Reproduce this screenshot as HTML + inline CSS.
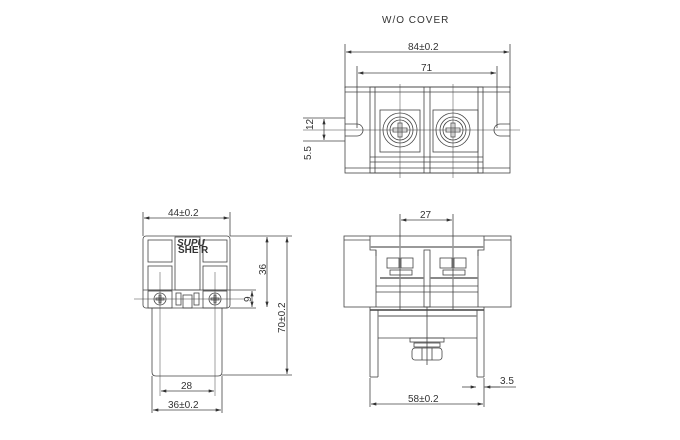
<!DOCTYPE html>
<html><head><meta charset="utf-8"><style>
html,body{margin:0;padding:0;background:#fff}
svg{display:block}
text{font-family:"Liberation Sans",sans-serif;fill:#333;font-size:10px}
</style></head><body>
<svg width="680" height="440" viewBox="0 0 680 440" xmlns="http://www.w3.org/2000/svg">
<defs>
<marker id="a" viewBox="0 0 10 6" refX="10" refY="3" markerWidth="7" markerHeight="4" orient="auto-start-reverse"><path d="M0,0 L10,3 L0,6z" fill="#333"/></marker>
</defs>
<g stroke="#444" stroke-width="0.8" fill="none">
<!-- TOP VIEW -->
<text x="382" y="23" stroke="none" font-size="13" letter-spacing="1">W/O COVER</text>
<text x="408" y="50" stroke="none">84±0.2</text>
<text x="421" y="71" stroke="none">71</text>
<line x1="345" y1="44" x2="345" y2="88"/><line x1="510" y1="44" x2="510" y2="88"/>
<line x1="346" y1="52" x2="509" y2="52" marker-start="url(#a)" marker-end="url(#a)"/>
<line x1="357" y1="66" x2="357" y2="128"/><line x1="497" y1="66" x2="497" y2="128"/>
<line x1="358" y1="73" x2="496" y2="73" marker-start="url(#a)" marker-end="url(#a)"/>
<rect x="345" y="87" width="165" height="86"/>
<line x1="345" y1="92" x2="510" y2="92"/><line x1="345" y1="168" x2="510" y2="168"/>
<rect x="370" y="87" width="113" height="86"/>
<line x1="375" y1="87" x2="375" y2="173"/><line x1="478" y1="87" x2="478" y2="173"/>
<line x1="424" y1="87" x2="424" y2="173"/><line x1="430" y1="87" x2="430" y2="173"/>
<rect x="380" y="110" width="40" height="42"/><rect x="433" y="110" width="45" height="42"/>
<line x1="370" y1="157" x2="483" y2="157"/><line x1="370" y1="162" x2="483" y2="162"/>
<path d="M345,124 H357 A6,6 0 0 1 357,136 H345"/>
<path d="M510,124 H500 A6,6 0 0 0 500,136 H510"/>
<circle cx="400" cy="130" r="17"/><circle cx="400" cy="130" r="13"/><circle cx="400" cy="130" r="10"/>
<circle cx="453" cy="130" r="17"/><circle cx="453" cy="130" r="13"/><circle cx="453" cy="130" r="10"/>
<path d="M393,128h14v4h-14z M398,123h4v14h-4z M446,128h14v4h-14z M451,123h4v14h-4z"/>
<line x1="400" y1="84" x2="400" y2="178" stroke-width="0.5"/><line x1="453" y1="84" x2="453" y2="178" stroke-width="0.5"/>
<line x1="303" y1="130" x2="520" y2="130" stroke-width="0.5"/>
<line x1="303" y1="118" x2="345" y2="118"/><line x1="303" y1="141" x2="345" y2="141"/>
<line x1="324" y1="119" x2="324" y2="140" marker-start="url(#a)" marker-end="url(#a)"/>
<text x="307" y="136" stroke="none" transform="rotate(-90 307 130)">12</text>
<text x="307" y="160" stroke="none" transform="rotate(-90 309 158)">5.5</text>
<!-- LEFT VIEW -->
<line x1="143" y1="212" x2="143" y2="236"/><line x1="230" y1="212" x2="230" y2="236"/>
<line x1="144" y1="218" x2="229" y2="218" marker-start="url(#a)" marker-end="url(#a)"/>
<text x="168" y="216" stroke="none">44±0.2</text>
<rect x="143" y="236" width="87" height="72" rx="3"/>
<path d="M152,308 V372 Q152,376 156,376 H218 Q222,376 222,372 V308"/>
<rect x="148" y="240" width="24" height="22"/><rect x="148" y="266" width="24" height="24"/>
<rect x="203" y="240" width="24" height="22"/><rect x="203" y="266" width="24" height="24"/>
<rect x="175" y="237" width="25" height="53"/>
<text x="177" y="246" stroke="none" font-size="5.5" font-weight="bold" font-style="italic">SUPU</text>
<text x="178" y="253" stroke="none" font-size="4.5" font-weight="bold">SHE'R</text>
<line x1="143" y1="290" x2="230" y2="290"/>
<rect x="148" y="291" width="24" height="17"/><rect x="203" y="291" width="24" height="17"/>
<rect x="176" y="293" width="5" height="12"/><rect x="194" y="293" width="5" height="12"/>
<rect x="183" y="295" width="9" height="13"/>
<circle cx="160" cy="299" r="6"/><circle cx="215" cy="299" r="6"/>
<path d="M156,298h8v2h-8z M159,295h2v8h-2z M211,298h8v2h-8z M214,295h2v8h-2z"/>
<line x1="134" y1="299" x2="245" y2="299" stroke-width="0.5"/>
<line x1="160" y1="272" x2="160" y2="396" stroke-width="0.5"/><line x1="215" y1="272" x2="215" y2="396" stroke-width="0.5"/>
<line x1="230" y1="290" x2="256" y2="290"/><line x1="230" y1="308" x2="256" y2="308"/>
<line x1="252" y1="291" x2="252" y2="307" marker-start="url(#a)" marker-end="url(#a)"/>
<text x="245" y="302" stroke="none" transform="rotate(-90 248 299)">9</text>
<line x1="230" y1="236" x2="292" y2="236"/><line x1="222" y1="375" x2="292" y2="375"/>
<line x1="267" y1="237" x2="267" y2="307" marker-start="url(#a)" marker-end="url(#a)"/>
<text x="260" y="275" stroke="none" transform="rotate(-90 263 272)">36</text>
<line x1="287" y1="237" x2="287" y2="374" marker-start="url(#a)" marker-end="url(#a)"/>
<text x="266" y="320" stroke="none" transform="rotate(-90 282 317)">70±0.2</text>
<line x1="161" y1="391" x2="214" y2="391" marker-start="url(#a)" marker-end="url(#a)"/>
<text x="181" y="389" stroke="none">28</text>
<line x1="152" y1="376" x2="152" y2="413"/><line x1="222" y1="376" x2="222" y2="413"/>
<line x1="153" y1="410" x2="221" y2="410" marker-start="url(#a)" marker-end="url(#a)"/>
<text x="168" y="408" stroke="none">36±0.2</text>
<!-- RIGHT VIEW -->
<line x1="400" y1="214" x2="400" y2="310"/><line x1="453" y1="214" x2="453" y2="310"/>
<line x1="401" y1="220" x2="452" y2="220" marker-start="url(#a)" marker-end="url(#a)"/>
<text x="420" y="218" stroke="none">27</text>
<rect x="344" y="236" width="167" height="71"/>
<line x1="344" y1="240" x2="370" y2="240"/><line x1="484" y1="240" x2="511" y2="240"/>
<path d="M370,236 V250 H376 V256 M484,236 V250 H478 V256"/>
<line x1="370" y1="247" x2="484" y2="247" stroke-width="2" stroke="#999"/>
<line x1="376" y1="250" x2="376" y2="307"/><line x1="478" y1="250" x2="478" y2="307"/>
<rect x="424" y="250" width="6" height="57"/>
<rect x="387" y="258" width="12" height="10"/><rect x="401" y="258" width="12" height="10"/>
<rect x="440" y="258" width="12" height="10"/><rect x="454" y="258" width="12" height="10"/>
<rect x="390" y="270" width="22" height="5"/><rect x="443" y="270" width="22" height="5"/>
<line x1="380" y1="278" x2="424" y2="278" stroke-width="2" stroke="#888"/><line x1="430" y1="278" x2="478" y2="278" stroke-width="2" stroke="#888"/>
<line x1="376" y1="286" x2="478" y2="286"/><line x1="376" y1="292" x2="478" y2="292"/>
<line x1="370" y1="307" x2="370" y2="377"/><line x1="378" y1="310" x2="378" y2="377"/>
<line x1="484" y1="307" x2="484" y2="377"/><line x1="477" y1="310" x2="477" y2="377"/>
<line x1="370" y1="377" x2="378" y2="377"/><line x1="477" y1="377" x2="484" y2="377"/>
<line x1="370" y1="310" x2="484" y2="310" stroke-width="1.5"/>
<line x1="378" y1="316" x2="477" y2="316" stroke-width="1.5" stroke="#888"/>
<line x1="378" y1="338" x2="477" y2="338"/>
<line x1="427" y1="307" x2="427" y2="365"/>
<rect x="410" y="338" width="34" height="4"/><rect x="414" y="343" width="26" height="4"/>
<rect x="412" y="348" width="30" height="12" rx="3"/>
<line x1="422" y1="348" x2="422" y2="360"/><line x1="432" y1="348" x2="432" y2="360"/>
<line x1="370" y1="378" x2="370" y2="407"/><line x1="484" y1="378" x2="484" y2="407"/>
<line x1="371" y1="404" x2="483" y2="404" marker-start="url(#a)" marker-end="url(#a)"/>
<text x="408" y="402" stroke="none">58±0.2</text>
<line x1="462" y1="387" x2="476" y2="387" marker-end="url(#a)"/>
<line x1="500" y1="387" x2="485" y2="387" marker-end="url(#a)"/>
<line x1="484" y1="387" x2="516" y2="387"/>
<text x="500" y="384" stroke="none">3.5</text>
</g>
</svg>
</body></html>
